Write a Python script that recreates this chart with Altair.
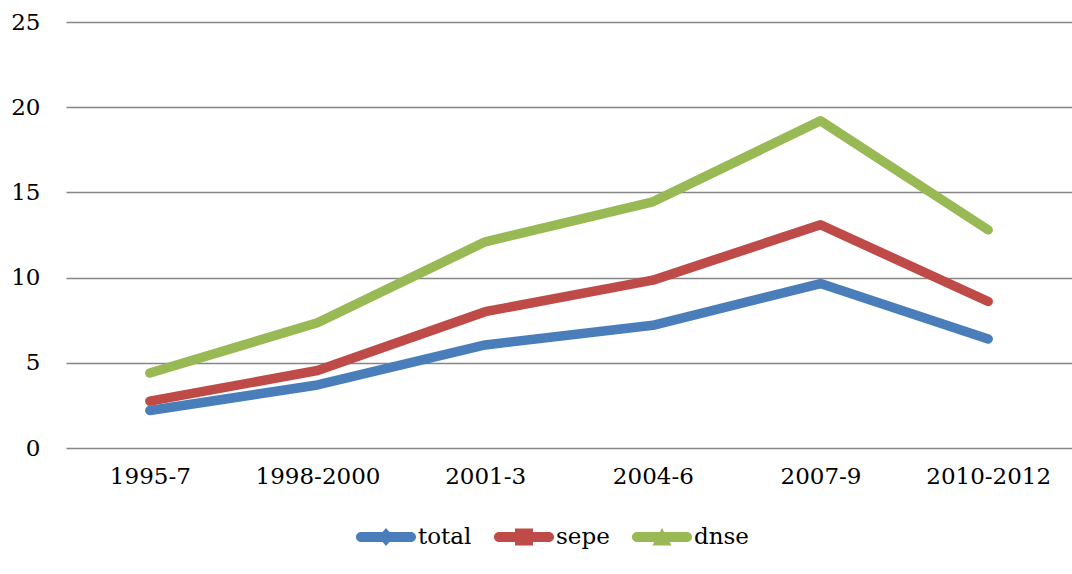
import altair as alt
import pandas as pd

periods = ["1995-7", "1998-2000", "2001-3", "2004-6", "2007-9", "2010-2012"]
total = [2.2, 3.7, 6.05, 7.2, 9.65, 6.4]
sepe = [2.75, 4.55, 8.0, 9.85, 13.1, 8.6]
dnse = [4.4, 7.35, 12.1, 14.45, 19.2, 12.8]
series = ["total", "sepe", "dnse"]
colors = ["#4A7EBB", "#BE4B48", "#98B954"]

rows = []
for name, vals in zip(series, [total, sepe, dnse]):
    for p, v in zip(periods, vals):
        rows.append({"period": p, "value": v, "series": name})
df = pd.DataFrame(rows)

line_part = "M-0.833,-0.167 L0.833,-0.167 A0.167,0.167 0 0 1 0.833,0.167 L-0.833,0.167 A0.167,0.167 0 0 1 -0.833,-0.167 Z "
shapes = [
    line_part + "M-0.26,0 L0,-0.3 L0.26,0 L0,0.3 Z",
    line_part + "M-0.3,-0.28 L0.3,-0.28 L0.3,0.28 L-0.3,0.28 Z",
    line_part + "M0,-0.3 L0.32,0.28 L-0.32,0.28 Z",
]

FONT = "DejaVu Serif"

x = alt.X("period:N", sort=periods, title=None,
          scale=alt.Scale(type="point", padding=0.5),
          axis=alt.Axis(labelAngle=0, ticks=False, domain=False, grid=False,
                        labelPadding=17, labelFontSize=23, labelFont=FONT,
                        labelColor="#000000"))
y = alt.Y("value:Q", title=None,
          scale=alt.Scale(domain=[0, 25], nice=False),
          axis=alt.Axis(values=[0, 5, 10, 15, 20, 25], ticks=False, domain=False,
                        grid=True, gridColor="#868686", gridWidth=1.5,
                        labelPadding=26, labelFontSize=23, labelFont=FONT,
                        labelColor="#000000"))

color_scale = alt.Scale(domain=series, range=colors)
legend = alt.Legend(orient="none", direction="horizontal",
                    legendX=290, legendY=485,
                    symbolSize=3600, symbolOpacity=1,
                    symbolStrokeWidth=0,
                    labelFont=FONT, labelFontSize=23,
                    labelColor="#000000", labelOffset=2,
                    columnPadding=22)

lines = alt.Chart(df).mark_line(strokeWidth=9.5, strokeCap="round", strokeJoin="round").encode(
    x=x, y=y,
    color=alt.Color("series:N", scale=color_scale, title=None, legend=legend),
)

points = alt.Chart(df).mark_point(filled=True, opacity=0).encode(
    x=x, y=y,
    color=alt.Color("series:N", scale=color_scale, title=None, legend=legend),
    shape=alt.Shape("series:N", scale=alt.Scale(domain=series, range=shapes),
                    title=None, legend=legend),
)

chart = alt.layer(lines, points).properties(
    width=1006, height=426,
    autosize=alt.AutoSizeParams(type="none"),
    padding={"left": 66, "top": 22, "right": 0, "bottom": 126},
).configure(background="white").configure_view(stroke=None)

chart.save("out.html", embed_options={"renderer": "svg", "actions": False})
